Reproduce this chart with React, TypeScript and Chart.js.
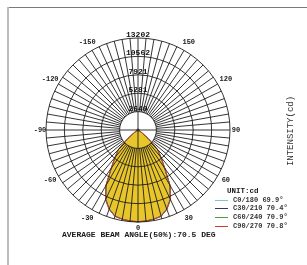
import React, { useEffect, useRef } from 'react';
import { Chart, registerables } from 'chart.js';

Chart.register(...registerables);

// Polar categories: index 0 at the top (180°), clockwise, 5° per step
const ANGLE_LABELS: string[] = Array.from({ length: 72 }, (_, i) => String(180 - 5 * i));
const SHOWN_ANGLE_LABELS = ['-150', '-120', '-90', '-60', '-30', '0', '30', '60', '90', '120', '150'];

// Ring (tick) values and labels
const RING_VALUES = [2640, 5281, 7921, 10562, 13202];
const MAX_INTENSITY = 13202;

// Intensity (cd) for gamma = 0,5,10,...,90 degrees
const C0_180 = [13202, 13140, 12980, 12760, 11990, 10880, 9080, 6560, 5060, 3930, 1880, 610, 210, 90, 50, 30, 20, 10, 0];
const C30_210 = [13180, 13120, 12990, 12800, 12060, 10960, 9160, 6640, 5110, 3960, 1900, 620, 220, 90, 50, 30, 20, 10, 0];
const C60_240 = [13160, 13110, 13000, 12830, 12120, 11030, 9230, 6720, 5160, 3990, 1920, 630, 220, 90, 50, 30, 20, 10, 0];
const C90_270 = [13150, 13100, 12990, 12820, 12100, 11010, 9210, 6700, 5150, 3980, 1910, 630, 220, 90, 50, 30, 20, 10, 0];

const SERIES_NAMES = ['C0/180', 'C30/210', 'C60/240', 'C90/270'];
const BEAM_ANGLES = [69.9, 70.4, 70.9, 70.8];
const SERIES_COLORS = ['#7cc6cc', '#2e3a5c', '#4e9c3c', '#d23a26'];
const SERIES_ORDER = [3, 2, 1, 0];
const PROFILES = [C0_180, C30_210, C60_240, C90_270];

const AVERAGE_BEAM = '70.5';
const FILL_COLOR = '#e8c52a';
const GRID_COLOR = '#1e1e1e';
const MONO = '"Liberation Mono", "DejaVu Sans Mono", monospace';

function toPolar(profile: number[]): number[] {
  return ANGLE_LABELS.map((lab) => {
    const g = Math.abs(Number(lab));
    return g <= 90 ? profile[g / 5] : 0;
  });
}

const polarGridPlugin = {
  id: 'polarGrid',
  afterDatasetsDraw(chart: any) {
    const scale = chart.scales.r;
    const ctx = chart.ctx as CanvasRenderingContext2D;
    const n = chart.data.labels.length;
    ctx.save();
    ctx.strokeStyle = GRID_COLOR;
    ctx.lineWidth = 0.9;
    ctx.beginPath();
    for (let i = 0; i < n; i++) {
      const isAxis = i % 18 === 0;
      const from = isAxis
        ? { x: scale.xCenter, y: scale.yCenter }
        : scale.getPointPositionForValue(i, RING_VALUES[0]);
      const to = scale.getPointPositionForValue(i, scale.max);
      ctx.moveTo(from.x, from.y);
      ctx.lineTo(to.x, to.y);
    }
    ctx.stroke();
    // centre marker
    ctx.fillStyle = '#333';
    ctx.beginPath();
    ctx.arc(scale.xCenter, scale.yCenter, 1.6, 0, Math.PI * 2);
    ctx.fill();
    // angle labels
    ctx.font = `bold 7px ${MONO}`;
    ctx.fillStyle = '#1a1a1a';
    ctx.textAlign = 'center';
    ctx.textBaseline = 'middle';
    ANGLE_LABELS.forEach((lab, i) => {
      if (!SHOWN_ANGLE_LABELS.includes(lab)) return;
      const a = (Number(lab) * Math.PI) / 180;
      const d = scale.drawingArea + 6 + 4 * Math.abs(Math.sin(2 * a));
      const p = scale.getPointPosition(i, d);
      ctx.fillText(lab, p.x, p.y);
    });
    // ring value labels, just above each ring at the top
    ctx.font = `bold 8px ${MONO}`;
    ctx.fillStyle = '#111';
    scale.ticks.forEach((t: any) => {
      if (!t.value) return;
      const p = scale.getPointPositionForValue(0, t.value);
      ctx.fillText(String(t.label), p.x, p.y - 3);
    });
    ctx.restore();
  },
};

export default function App() {
  const ref = useRef<HTMLCanvasElement>(null);

  useEffect(() => {
    const datasets = PROFILES.map((p, k) => ({
      label: SERIES_NAMES[k],
      data: toPolar(p),
      borderColor: SERIES_COLORS[k],
      borderWidth: 1,
      backgroundColor: FILL_COLOR,
      fill: k === 0 ? 'origin' : false,
      pointRadius: 0,
      tension: 0,
      order: SERIES_ORDER[k],
    }));
    const chart = new Chart(ref.current as HTMLCanvasElement, {
      type: 'radar',
      data: { labels: ANGLE_LABELS, datasets: datasets as any },
      options: {
        responsive: false,
        animation: false,
        layout: { padding: { left: 46, top: 38, right: 77, bottom: 43 } },
        plugins: {
          legend: { display: false },
          tooltip: { enabled: false },
          filler: { propagate: false, drawTime: 'beforeDatasetsDraw' },
        } as any,
        scales: {
          r: {
            min: 0,
            max: MAX_INTENSITY,
            startAngle: 0,
            afterBuildTicks: (s: any) => {
              s.ticks = [0, ...RING_VALUES].map((v) => ({ value: v }));
            },
            ticks: {
              display: false,
              callback: (v: any) => String(v),
            },
            grid: { circular: true, color: GRID_COLOR, lineWidth: 0.9, z: 1 },
            angleLines: { display: false },
            pointLabels: { display: false },
          } as any,
        },
      },
      plugins: [polarGridPlugin],
    });
    return () => chart.destroy();
  }, []);

  return (
    <div style={{ position: 'fixed', left: 0, top: 0, width: 307, height: 265, background: '#fff', overflow: 'hidden' }}>
      <div style={{ position: 'absolute', left: 7, top: 7, right: 0, height: 0, borderTop: '1px solid #7a7a7a' }} />
      <div style={{ position: 'absolute', left: 7, top: 7, bottom: 0, width: 2, background: '#bdbdbd' }} />
      <canvas ref={ref} width={307} height={265} style={{ position: 'absolute', left: 0, top: 0, width: 307, height: 265 }} />
      <div
        style={{
          position: 'absolute', left: 62, top: 230, height: 10, lineHeight: '10px',
          font: `bold 8px ${MONO}`, color: '#1a1a1a', whiteSpace: 'nowrap',
        }}
      >
        {`AVERAGE BEAM ANGLE(50%):${AVERAGE_BEAM} DEG`}
      </div>
      <div
        style={{
          position: 'absolute', left: 291, top: 131, transform: 'translate(-50%, -50%) rotate(-90deg)',
          font: `9px ${MONO}`, color: '#333', whiteSpace: 'nowrap', lineHeight: '10px',
        }}
      >
        INTENSITY(cd)
      </div>
      <div style={{ position: 'absolute', left: 227, top: 186, font: `bold 7.5px ${MONO}`, color: '#1a1a1a', lineHeight: '10px', whiteSpace: 'nowrap' }}>
        UNIT:cd
      </div>
      {SERIES_NAMES.map((name, k) => (
        <div key={name} style={{ position: 'absolute', left: 215, top: 195.5 + k * 8.7, height: 9, whiteSpace: 'nowrap' }}>
          <div style={{ position: 'absolute', left: 0, top: 4, width: 13, height: 1, background: SERIES_COLORS[k] }} />
          <div style={{ position: 'absolute', left: 18, top: 0, font: `bold 7px ${MONO}`, color: '#333', lineHeight: '9px' }}>
            {`${name} ${BEAM_ANGLES[k].toFixed(1)}°`}
          </div>
        </div>
      ))}
    </div>
  );
}
